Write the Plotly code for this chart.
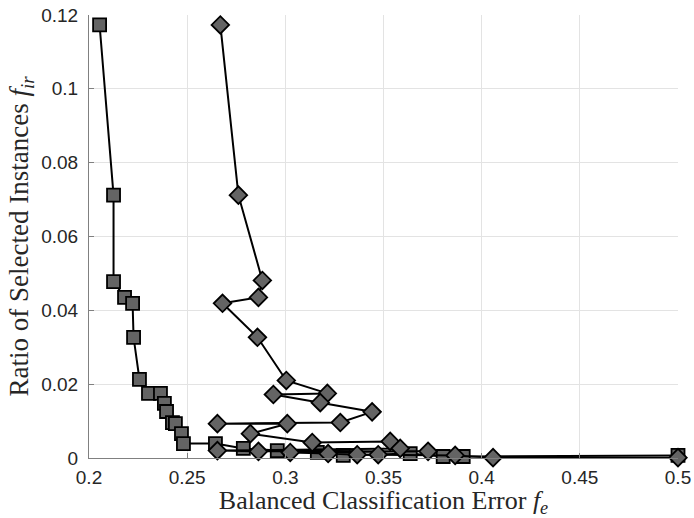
import plotly.graph_objects as go

# Square series (balanced error, ratio of selected instances)
sq_x = [0.2054, 0.2125, 0.2125, 0.2181, 0.2222, 0.2227, 0.2257, 0.2303, 0.2364, 0.2384,
        0.2395, 0.2425, 0.2440, 0.2471, 0.2481, 0.2644, 0.2786, 0.2959, 0.3163, 0.3295,
        0.3636, 0.3804, 0.3906, 0.5000]
sq_y = [0.1173, 0.0712, 0.0478, 0.0435, 0.0419, 0.0327, 0.0213, 0.0175, 0.0175, 0.0148,
        0.0126, 0.0096, 0.0093, 0.0066, 0.0039, 0.0039, 0.0026, 0.0020, 0.0015, 0.0007,
        0.0012, 0.0004, 0.0004, 0.0007]

# Diamond series
dm_x = [0.2669, 0.2761, 0.2883, 0.2863, 0.2680, 0.2858, 0.3005, 0.3214, 0.2939, 0.3178,
        0.3442, 0.3280, 0.2654, 0.3010, 0.2822, 0.3137, 0.3534, 0.3585, 0.2654, 0.2863,
        0.3727, 0.3025, 0.3218, 0.3366, 0.3473, 0.3865, 0.4058, 0.5000]
dm_y = [0.1173, 0.0712, 0.0481, 0.0435, 0.0419, 0.0327, 0.0210, 0.0175, 0.0172, 0.0150,
        0.0125, 0.0096, 0.0093, 0.0093, 0.0066, 0.0042, 0.0045, 0.0026, 0.0020, 0.0018,
        0.0018, 0.0015, 0.0012, 0.0009, 0.0009, 0.0007, 0.0001, 0.0001]

x_ticks = [0.2, 0.25, 0.3, 0.35, 0.4, 0.45, 0.5]
x_tick_labels = ["0.2", "0.25", "0.3", "0.35", "0.4", "0.45", "0.5"]
y_ticks = [0, 0.02, 0.04, 0.06, 0.08, 0.1, 0.12]
y_tick_labels = ["0", "0.02", "0.04", "0.06", "0.08", "0.1", "0.12"]

fill = "#646464"

fig = go.Figure()
fig.add_trace(go.Scatter(
    x=sq_x, y=sq_y, mode="lines+markers",
    line=dict(color="black", width=2),
    marker=dict(symbol="square", size=13, color=fill, line=dict(color="black", width=1.8)),
    showlegend=False, cliponaxis=False))
fig.add_trace(go.Scatter(
    x=dm_x, y=dm_y, mode="lines+markers",
    line=dict(color="black", width=2),
    marker=dict(symbol="diamond", size=13.5, color=fill, line=dict(color="black", width=1.8)),
    showlegend=False, cliponaxis=False))

axis_common = dict(
    showgrid=True, gridcolor="#e3e3e3", gridwidth=1,
    zeroline=False, showline=True, linecolor="#808080", linewidth=1,
    ticks="inside", ticklen=5, tickcolor="#808080",
    tickfont=dict(family="Liberation Sans, Arial, sans-serif", size=19, color="#262626"),
    automargin=False,
)

fig.update_layout(
    width=694, height=518,
    margin=dict(l=89, r=16, t=15, b=60),
    paper_bgcolor="white", plot_bgcolor="white",
    xaxis=dict(range=[0.2, 0.5], tickvals=x_ticks, ticktext=x_tick_labels,
               ticklabelstandoff=2,
               title=dict(text="Balanced Classification Error <i>f</i><sub><i>e</i></sub>",
                          font=dict(family="Liberation Serif, DejaVu Serif, serif", size=26, color="#262626"),
                          standoff=10),
               **axis_common),
    yaxis=dict(range=[0, 0.12], tickvals=y_ticks, ticktext=y_tick_labels,
               ticklabelstandoff=6,
               title=dict(text="Ratio of Selected Instances <i>f</i><sub><i>ir</i></sub>",
                          font=dict(family="Liberation Serif, DejaVu Serif, serif", size=27, color="#262626"),
                          standoff=4),
               **axis_common),
)

fig.write_html("out.html", config={"displayModeBar": False},
               post_script="document.body.style.margin='0px';document.body.style.overflow='hidden';")
